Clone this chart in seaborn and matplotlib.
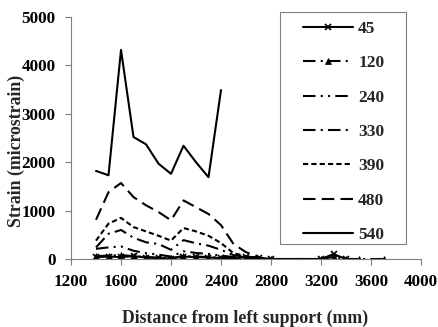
import numpy as np
import pandas as pd
import matplotlib
matplotlib.use("Agg")
import matplotlib.pyplot as plt
from matplotlib.patches import Rectangle
import seaborn as sns

# ---- data ----
x_main = [1400, 1500, 1600, 1700, 1800, 1900, 2000, 2100, 2200, 2300, 2400, 2500, 2600, 2700]
x_tail45 = [2800, 3200, 3300, 3400]
x_tail120 = [2800, 3200, 3300, 3400, 3500, 3700]

s540 = [1820, 1730, 4320, 2520, 2370, 1970, 1760, 2340, 2000, 1690, 3490]
s480 = [810, 1380, 1570, 1280, 1110, 970, 800, 1210, 1070, 930, 700, 310, 140, 50]
s390 = [380, 730, 850, 660, 570, 480, 380, 640, 570, 480, 330, 120, 60, 20]
s330 = [240, 520, 600, 440, 345, 310, 190, 390, 325, 275, 190, 80, 40, 10]
s240 = [210, 240, 260, 170, 120, 90, 50, 160, 125, 105, 70, 40, 20, 5]
s120 = [60, 70, 80, 60, 40, 30, 20, 60, 50, 40, 30, 20, 10, 0]
s45 = [40, 50, 40, 60, 30, 20, 10, 50, 40, 30, 20, 10, 50, 30]
s45_tail = [0, 0, 100, 0]
s120_tail = [0, 0, 40, 0, 0, 0]

labels = ["45", "120", "240", "330", "390", "480", "540"]
xticks = [1200, 1600, 2000, 2400, 2800, 3200, 3600, 4000]
yticks = [0, 1000, 2000, 3000, 4000, 5000]

series = {
    "45": (x_main + x_tail45, s45 + s45_tail),
    "120": (x_main + x_tail120, s120 + s120_tail),
    "240": (x_main, s240),
    "330": (x_main, s330),
    "390": (x_main, s390),
    "480": (x_main, s480),
    "540": (x_main[:len(s540)], s540),
}

styles = {
    "45": dict(dashes=(None, None), marker="x", ms=5, mew=1.2),
    "120": dict(dashes=(6, 2.5, 1, 2.5), marker="^", ms=5, mew=0.5),
    "240": dict(dashes=(6, 2.5, 1, 2.5, 1, 2.5), marker=None),
    "330": dict(dashes=(6, 2.5, 1, 2.5), marker=None),
    "390": dict(dashes=(2.5, 1.5), marker=None),
    "480": dict(dashes=(6, 3), marker=None),
    "540": dict(dashes=(None, None), marker=None),
}

sns.set_theme(style="ticks")
plt.rcParams["font.family"] = ["Liberation Serif", "DejaVu Serif"]
plt.rcParams["font.weight"] = "bold"

fig = plt.figure(figsize=(4.39, 3.27), dpi=100)
ax = fig.add_axes([71 / 439, 1 - 259 / 327, 350 / 439, 242 / 327])

handles = []
for lab in labels:
    xs, ys = series[lab]
    df = pd.DataFrame({"x": xs, "y": ys})
    st = styles[lab]
    sns.lineplot(data=df, x="x", y="y", ax=ax, color="black", lw=1.5,
                 marker=st["marker"], markersize=st.get("ms", 0),
                 markeredgewidth=st.get("mew", 1), markeredgecolor="black",
                 label=lab, legend=False)
    line = ax.get_lines()[-1]
    if st["dashes"][0] is not None:
        line.set_dashes(st["dashes"])
    handles.append(line)

ax.set_xlim(1200, 4000)
ax.set_ylim(0, 5000)
ax.set_xticks(xticks)
ax.set_yticks(yticks)
ax.tick_params(labelsize=12.3, colors="black", length=4.5, width=0.8,
               color="#808080", pad=6.5)
for t in ax.get_xticklabels() + ax.get_yticklabels():
    t.set_fontweight("bold")
for s in ["top", "right"]:
    ax.spines[s].set_visible(False)
for s in ["left", "bottom"]:
    ax.spines[s].set_color("#808080")
    ax.spines[s].set_linewidth(0.8)

ax.set_xlabel("")
ax.set_ylabel("")
fig.text(245 / 439, 1 - 318 / 327, "Distance from left support (mm)",
         ha="center", va="center", fontsize=12.8, fontweight="bold")
fig.text(16 / 439, 1 - 151 / 327, "Strain (microstrain)", rotation=90,
         ha="center", va="center", fontsize=12.8, fontweight="bold")

# legend frame as drawn in the reference, entries placed inside it
fig.patches.append(Rectangle((280 / 439, 1 - 244 / 327), 126 / 439, 232 / 327,
                             transform=fig.transFigure, fill=True,
                             facecolor="white", edgecolor="#808080", lw=0.8,
                             zorder=3))
leg = fig.legend(handles=handles, labels=labels, loc="upper left",
                 bbox_to_anchor=(294 / 439, 1 - 244 / 327, 112 / 439, 232 / 327),
                 fontsize=12.5, frameon=False,
                 handlelength=2.9, handletextpad=0.3,
                 labelspacing=1.05, borderpad=0.5, borderaxespad=0)
leg.set_zorder(4)
for t in leg.get_texts():
    t.set_fontweight("bold")

fig.savefig("out.png", dpi=100)
